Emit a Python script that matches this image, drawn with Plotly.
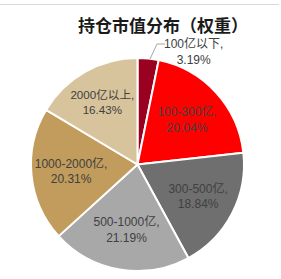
import plotly.graph_objects as go

categories = ["100亿以下", "100-300亿", "300-500亿", "500-1000亿", "1000-2000亿", "2000亿以上"]
weights = [3.19, 20.04, 18.84, 21.19, 20.31, 16.43]
colors = ["#9A0020", "#FF0000", "#6F6F70", "#A8A8A8", "#C19C5C", "#D8C49C"]
title = "持仓市值分布（权重）"

W, H = 281, 279
font_family = "Liberation Sans, Arial, Noto Sans CJK SC"

positions = ["none"] + ["inside"] * (len(categories) - 1)

fig = go.Figure(go.Pie(
    labels=categories,
    values=weights,
    sort=False,
    direction="clockwise",
    rotation=0,
    marker=dict(colors=colors, line=dict(color="white", width=2)),
    texttemplate="%{label},<br>%{value:.2f}%",
    textposition=positions,
    insidetextorientation="horizontal",
    textfont=dict(family=font_family, size=12, color="#404040"),
    domain=dict(x=[31 / W, 244 / W], y=[1 - 272 / H, 1 - 57 / H]),
    showlegend=False,
    hoverinfo="label+value",
))

# leader line for the small outside label
fig.add_shape(type="path", xref="paper", yref="paper",
              path=f"M {150 / W} {1 - 59 / H} L {157 / W} {1 - 44 / H} L {165 / W} {1 - 44 / H}",
              line=dict(color="#A6A6A6", width=1))
fig.add_annotation(
    x=193 / W, y=1 - 51 / H, xref="paper", yref="paper",
    text=f"{categories[0]},<br>{weights[0]:.2f}%", showarrow=False,
    font=dict(family=font_family, size=12, color="#404040"),
    xanchor="center", yanchor="middle",
)

fig.add_shape(type="line", xref="paper", yref="paper",
              x0=0, x1=279 / W, y0=1 - 4.5 / H, y1=1 - 4.5 / H,
              line=dict(color="#D9D9D9", width=1))

fig.update_layout(
    width=W, height=H,
    margin=dict(l=0, r=0, t=0, b=0),
    paper_bgcolor="white", plot_bgcolor="white",
    title=dict(text=f"<b>{title}</b>", x=163 / W, xanchor="center",
               y=1 - 26 / H, yanchor="middle",
               font=dict(family="Noto Sans CJK SC", size=17, color="#1a1a1a")),
)

fig.write_html("out.html")
